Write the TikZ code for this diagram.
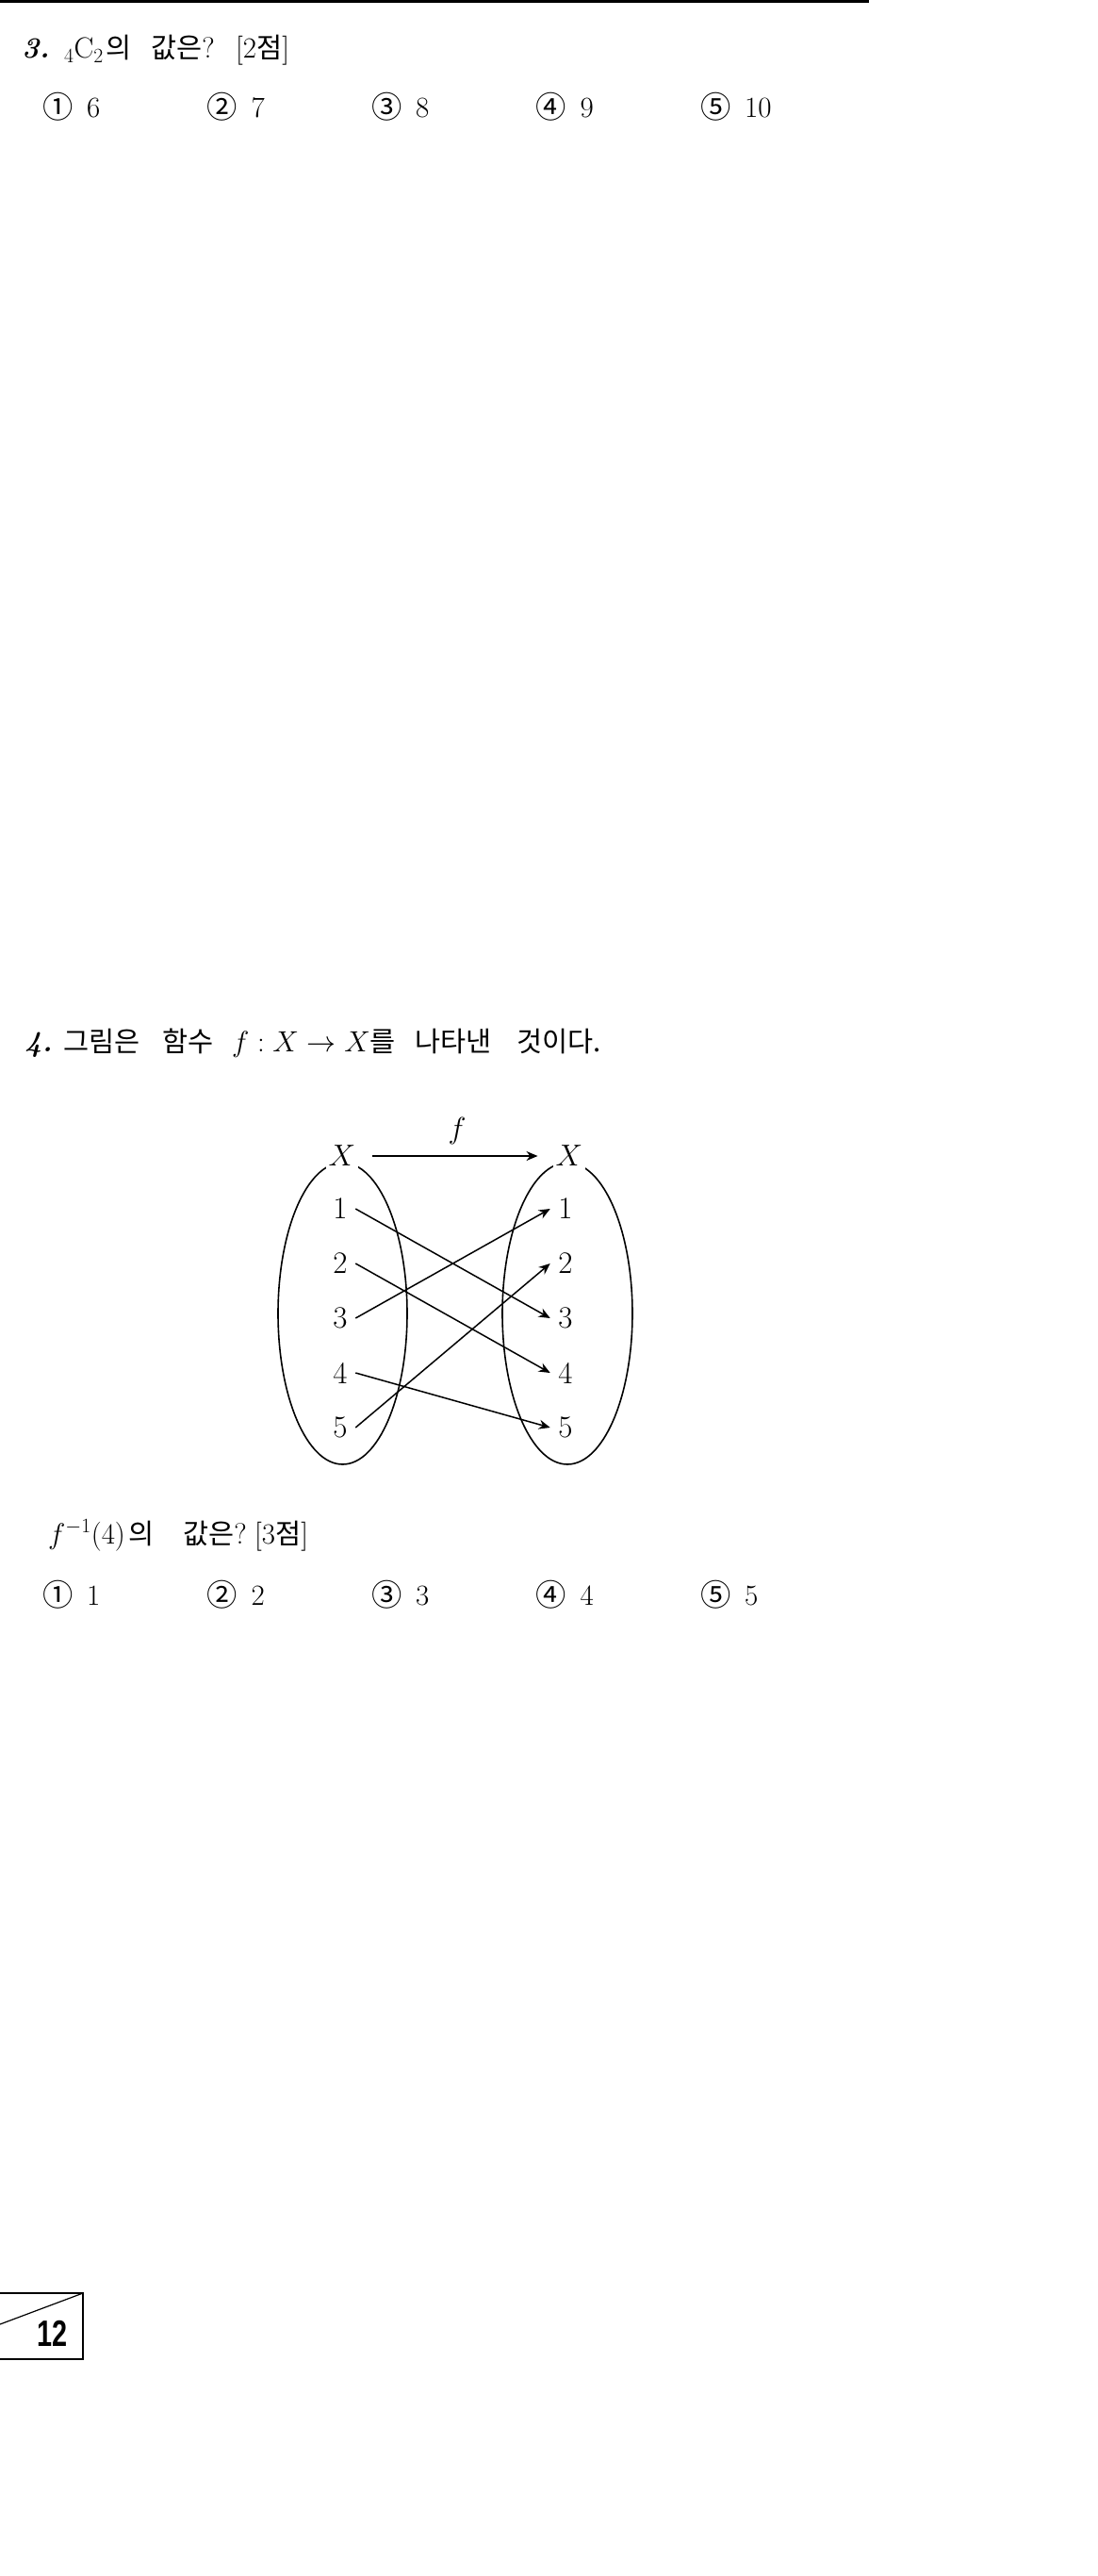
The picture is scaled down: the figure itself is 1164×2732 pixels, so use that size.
\documentclass[tikz,border=0pt]{standalone}
\usepackage{fix-cm}
\usepackage{fontspec}
\newfontfamily\krfont{Noto Sans CJK KR}[Scale=0.95]
\newfontfamily\pagefont{Liberation Sans}[FakeStretch=0.74]
\usetikzlibrary{arrows.meta}
\tikzset{
  txt/.style={anchor=base west, inner sep=0pt, font=\fontsize{31}{37}\selectfont},
  circnum/.style={anchor=base west, inner sep=0pt, font=\fontsize{34}{40}\selectfont\krfont},
  elem/.style={inner sep=8.5pt, font=\fontsize{33}{40}\selectfont},
  setname/.style={fill=white, inner sep=3pt, font=\fontsize{32}{38}\selectfont},
  maparrow/.style={-{Stealth[length=12pt,width=10pt]}, line width=1.5pt},
  setline/.style={line width=1.6pt},
}
\begin{document}
\begin{tikzpicture}[x=1pt,y=-1pt]
\useasboundingbox (0,0) rectangle (1164,2732);
% top rule
\draw[line width=3pt] (0,1.5) -- (922,1.5);

% ---------- Question 3 ----------
\node[txt] (q3n) at (23,62) {\textbf{\textit{3.}}};
\node[txt] (q3a) at (68,62) {${}_4\mathrm{C}_2$};
\node[txt] (q3b) at (112,62) {{\krfont 의}};
\node[txt] (q3c) at (160,62) {{\krfont 값은}?};
\node[txt] (q3d) at (250,62) {[2{\krfont 점}]};

\foreach \i/\s/\v in {0/①/6,1/②/7,2/③/8,3/④/9,4/⑤/10}{
  \node[circnum] (c3\i) at (45+174.5*\i,126) {\s};
  \node[txt] (a3\i) at (92+174.5*\i,125) {\v};
}

% ---------- Question 4 ----------
\node[txt] (q4n) at (26,1115) {\textbf{\textit{4.}}};
\node[txt] (q4a) at (67,1115) {{\krfont 그림은}};
\node[txt] (q4b) at (172,1115) {{\krfont 함수}};
\node[txt] (q4c) at (246,1115) {$f:X\to X${\krfont 를}};
\node[txt] (q4d) at (440,1115) {{\krfont 나타낸}};
\node[txt] (q4e) at (548,1115) {{\krfont 것이다.}};

% diagram
\draw[setline] (363.5,1393) ellipse [x radius=68.5pt, y radius=160pt];
\draw[setline] (602,1393) ellipse [x radius=69pt, y radius=160pt];
\node[setname] (XL) at (363,1226) {$X$};
\node[setname] (XR) at (604,1226) {$X$};
\node[anchor=base, inner sep=0pt, font=\fontsize{32}{38}\selectfont] (flab) at (485,1207) {$f$};
\draw[maparrow, shorten <=15pt, shorten >=16pt] (XL.east) -- (XR.west);

\foreach \i in {1,...,5}{
  \node[elem] (L\i) at (361,{1282+58*(\i-1)}) {\i};
  \node[elem] (R\i) at (600,{1282+58*(\i-1)}) {\i};
}
\draw[maparrow] (L1.east) -- (R3.west);
\draw[maparrow] (L2.east) -- (R4.west);
\draw[maparrow] (L3.east) -- (R1.west);
\draw[maparrow] (L4.east) -- (R5.west);
\draw[maparrow] (L5.east) -- (R2.west);

\node[txt] (q4f) at (51,1637) {$f^{-1}(4)$};
\node[txt] (q4g) at (136,1637) {{\krfont 의}};
\node[txt] (q4h) at (194,1637) {{\krfont 값은}?};
\node[txt] (q4i) at (270,1637) {[3{\krfont 점}]};

\foreach \i/\s/\v in {0/①/1,1/②/2,2/③/3,3/④/4,4/⑤/5}{
  \node[circnum] (c4\i) at (45+174.5*\i,1703) {\s};
  \node[txt] (a4\i) at (92+174.5*\i,1702) {\v};
}

% ---------- page number box ----------
\draw[line width=1.2pt] (0,2432) -- (88,2432) -- (88,2502) -- (0,2502);
\draw[line width=1.2pt] (0,2465) -- (88,2432);
\node[anchor=base west, inner sep=0pt, font={\fontsize{39}{44}\pagefont\bfseries}] (pg) at (39,2488) {12};
\end{tikzpicture}
\end{document}
